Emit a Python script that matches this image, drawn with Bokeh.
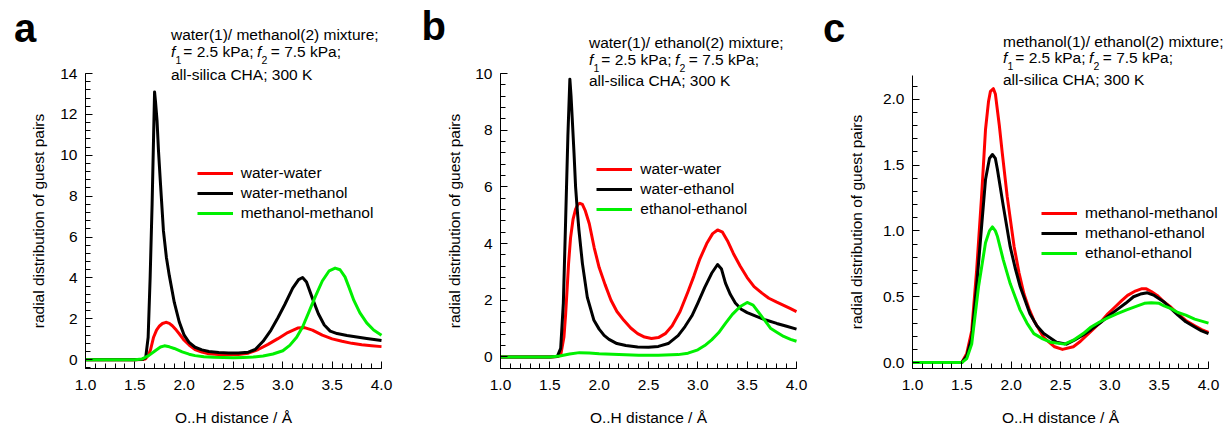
from bokeh.plotting import figure
from bokeh.models import (Range1d, SingleIntervalTicker, NumeralTickFormatter,
                          Label, Legend, LegendItem)
from bokeh.layouts import row
from bokeh.embed import file_html
from bokeh.resources import INLINE

# ---------------- data ----------------
# panel a: water(1)/methanol(2)
a_ww_x = [1.0, 1.5, 1.58, 1.61, 1.64, 1.66, 1.69, 1.72, 1.75, 1.78, 1.815, 1.85, 1.88, 1.92, 1.95, 2.0,
          2.05, 2.11, 2.18, 2.25, 2.35, 2.45, 2.55, 2.65, 2.75, 2.85, 2.95, 3.05, 3.15, 3.22, 3.3, 3.4,
          3.5, 3.6, 3.7, 3.8, 3.9, 4.0]
a_ww_y = [0, 0, 0.01, 0.05, 0.25, 0.5, 1.1, 1.45, 1.65, 1.77, 1.83, 1.78, 1.66, 1.45, 1.27, 0.95,
          0.72, 0.50, 0.37, 0.29, 0.25, 0.24, 0.25, 0.32, 0.5, 0.75, 1.03, 1.33, 1.55, 1.57, 1.45, 1.2,
          1.02, 0.9, 0.8, 0.73, 0.68, 0.64]
a_wm_x = [1.0, 1.5, 1.58, 1.61, 1.635, 1.655, 1.675, 1.69, 1.70, 1.71, 1.725, 1.74, 1.76, 1.79, 1.82,
          1.85, 1.90, 1.95, 2.0, 2.05, 2.11, 2.18, 2.25, 2.35, 2.45, 2.55, 2.65, 2.72, 2.8, 2.88, 2.95,
          3.02, 3.1, 3.16, 3.2, 3.24, 3.3, 3.36, 3.42, 3.48, 3.55, 3.65, 3.75, 3.85, 4.0]
a_wm_y = [0, 0, 0.02, 0.1, 1.1, 4.0, 7.6, 10.9, 13.1, 12.6, 11.7, 10.2, 8.6, 6.3, 5.0,
          4.1, 2.8, 1.85, 1.2, 0.85, 0.61, 0.48, 0.40, 0.35, 0.33, 0.33, 0.37, 0.5, 0.9, 1.45, 2.05,
          2.7, 3.5, 3.92, 4.02, 3.8, 3.0, 2.25, 1.7, 1.4, 1.28, 1.18, 1.11, 1.04, 0.94]
a_mm_x = [1.0, 1.5, 1.57, 1.64, 1.71, 1.76, 1.80, 1.85, 1.9, 1.98, 2.05, 2.11, 2.2, 2.3, 2.4, 2.5,
          2.6, 2.7, 2.8, 2.9, 3.0, 3.07, 3.14, 3.2, 3.27, 3.33, 3.4, 3.47, 3.53, 3.58, 3.63, 3.67,
          3.72, 3.78, 3.85, 3.92, 4.0]
a_mm_y = [0, 0, 0.03, 0.2, 0.45, 0.62, 0.68, 0.63, 0.55, 0.38, 0.27, 0.2, 0.15, 0.12, 0.11, 0.1,
          0.11, 0.13, 0.18, 0.28, 0.44, 0.7, 1.1, 1.6, 2.4, 3.1, 3.85, 4.35, 4.48, 4.4, 4.05, 3.55,
          2.9, 2.3, 1.8, 1.45, 1.2]

# panel b: water(1)/ethanol(2)
b_ww_x = [1.0, 1.5, 1.58, 1.61, 1.643, 1.66, 1.677, 1.69, 1.71, 1.735, 1.76, 1.785, 1.805, 1.83,
          1.86, 1.9, 1.95, 2.0, 2.06, 2.12, 2.18, 2.25, 2.32, 2.39, 2.46, 2.53, 2.6, 2.67, 2.74,
          2.82, 2.9, 2.96, 3.02, 3.09, 3.15, 3.2, 3.25, 3.3, 3.36, 3.43, 3.5, 3.57, 3.65, 3.72,
          3.8, 3.87, 3.94, 4.0]
b_ww_y = [0, 0, 0.01, 0.06, 0.7, 1.5, 2.5, 3.3, 4.2, 4.85, 5.2, 5.38, 5.42, 5.38,
          5.15, 4.7, 3.85, 3.15, 2.55, 2.0, 1.6, 1.29, 1.02, 0.82, 0.7, 0.65, 0.68, 0.82, 1.1,
          1.6, 2.3, 2.85, 3.45, 4.0, 4.35, 4.48, 4.4, 4.1, 3.65, 3.2, 2.8, 2.48, 2.25, 2.07,
          1.93, 1.82, 1.7, 1.6]
b_we_x = [1.0, 1.5, 1.575, 1.61, 1.637, 1.66, 1.683, 1.703, 1.715, 1.728, 1.745, 1.761, 1.78,
          1.795, 1.83, 1.88, 1.947, 2.0, 2.05, 2.1, 2.18, 2.27, 2.39, 2.5, 2.6, 2.7, 2.8, 2.87,
          2.94, 3.0, 3.07, 3.14, 3.2, 3.24, 3.28, 3.33, 3.38, 3.44, 3.5, 3.6, 3.69, 3.8, 3.9, 4.0]
b_we_y = [0, 0, 0.01, 0.3, 1.9, 4.8, 7.8, 9.8, 9.2, 8.35, 7.2, 6.0, 5.1,
          4.47, 3.3, 2.1, 1.29, 0.98, 0.76, 0.62, 0.47, 0.4, 0.35, 0.34, 0.37, 0.47, 0.75, 1.07,
          1.45, 1.9, 2.45, 2.95, 3.26, 3.1, 2.6, 2.2, 1.9, 1.68, 1.56, 1.42, 1.3, 1.18, 1.08, 0.98]
b_ee_x = [1.0, 1.5, 1.6, 1.7, 1.8, 1.9, 2.0, 2.2, 2.4, 2.6, 2.8, 2.9, 3.0, 3.07, 3.14, 3.21, 3.28,
          3.35, 3.43, 3.5, 3.56, 3.62, 3.68, 3.74, 3.8, 3.87, 3.94, 4.0]
b_ee_y = [0, 0, 0.03, 0.1, 0.15, 0.14, 0.11, 0.08, 0.06, 0.06, 0.08, 0.13, 0.25, 0.4, 0.6, 0.85, 1.18,
          1.5, 1.78, 1.92, 1.83, 1.55, 1.28, 1.0, 0.87, 0.72, 0.62, 0.55]

# panel c: methanol(1)/ethanol(2)
c_mm_x = [1.0, 1.5, 1.55, 1.6, 1.65, 1.7, 1.74, 1.77, 1.79, 1.82, 1.84, 1.86, 1.88, 1.91, 1.96,
          2.03, 2.08, 2.13, 2.18, 2.23, 2.33, 2.44, 2.52, 2.63, 2.7, 2.77, 2.84, 2.91, 2.98, 3.05,
          3.12, 3.18, 3.25, 3.32, 3.37, 3.42, 3.48, 3.55, 3.62, 3.69, 3.77, 3.86, 3.93, 4.0]
c_mm_y = [0, 0, 0.07, 0.24, 0.7, 1.26, 1.77, 1.98, 2.06, 2.08, 2.04, 1.92, 1.8, 1.59, 1.26,
          0.88, 0.68, 0.52, 0.41, 0.32, 0.19, 0.12, 0.10, 0.12, 0.16, 0.21, 0.26, 0.31, 0.37, 0.42,
          0.47, 0.51, 0.54, 0.56, 0.56, 0.54, 0.51, 0.46, 0.42, 0.37, 0.32, 0.28, 0.25, 0.23]
c_me_x = [1.0, 1.5, 1.55, 1.6, 1.65, 1.7, 1.74, 1.78, 1.81, 1.84, 1.86, 1.92, 1.99, 2.04, 2.09,
          2.19, 2.26, 2.33, 2.46, 2.56, 2.64, 2.73, 2.81, 2.9, 2.98, 3.07, 3.16, 3.24, 3.31, 3.38,
          3.45, 3.55, 3.62, 3.69, 3.77, 3.86, 3.93, 4.0]
c_me_y = [0, 0, 0.05, 0.19, 0.58, 1.03, 1.39, 1.55, 1.58, 1.55, 1.47, 1.19, 0.88, 0.72, 0.58,
          0.37, 0.28, 0.22, 0.155, 0.14, 0.17, 0.21, 0.25, 0.3, 0.35, 0.4, 0.45, 0.5, 0.52, 0.53,
          0.51, 0.46, 0.41, 0.36, 0.31, 0.27, 0.24, 0.22]
c_ee_x = [1.0, 1.5, 1.55, 1.6, 1.67, 1.74, 1.78, 1.81, 1.84, 1.86, 1.92, 1.99, 2.04, 2.09, 2.16,
          2.23, 2.32, 2.40, 2.54, 2.63, 2.73, 2.81, 2.9, 2.98, 3.07, 3.17, 3.28, 3.35, 3.42, 3.5,
          3.55, 3.62, 3.69, 3.77, 3.86, 3.93, 4.0]
c_ee_y = [0, 0, 0.03, 0.14, 0.58, 0.91, 1.0, 1.03, 1.0, 0.96, 0.78, 0.6, 0.5, 0.4, 0.3,
          0.22, 0.18, 0.155, 0.14, 0.17, 0.22, 0.27, 0.31, 0.34, 0.37, 0.40, 0.43, 0.45, 0.455, 0.45,
          0.43, 0.41, 0.38, 0.36, 0.33, 0.315, 0.30]

RED, BLACK, GREEN = "#ff0000", "#000000", "#00f000"

panels = [
    dict(letter="a", mixture="water(1)/ methanol(2) mixture;",
         series=[("water-water", a_ww_x, a_ww_y, RED),
                 ("water-methanol", a_wm_x, a_wm_y, BLACK),
                 ("methanol-methanol", a_mm_x, a_mm_y, GREEN)],
         y_range=(-0.43, 14.0), y_tick=2, y_fmt="0",
         page_left=0, width=408, fl=85, fr=381, ft=73, fb=368,
         legend_px=(196.7, 173.3), letter_px=(13.5, 42), text_px=(170.5, 40, 56.5, 80),
         ylab_standoff=10),
    dict(letter="b", mixture="water(1)/ ethanol(2) mixture;",
         series=[("water-water", b_ww_x, b_ww_y, RED),
                 ("water-ethanol", b_we_x, b_we_y, BLACK),
                 ("ethanol-ethanol", b_ee_x, b_ee_y, GREEN)],
         y_range=(-0.41, 10.0), y_tick=2, y_fmt="0",
         page_left=408, width=410, fl=500, fr=796, ft=73, fb=368,
         legend_px=(596.3, 169.3), letter_px=(421, 40), text_px=(588.5, 48, 64.5, 86),
         ylab_standoff=9),
    dict(letter="c", mixture="methanol(1)/ ethanol(2) mixture;",
         series=[("methanol-methanol", c_mm_x, c_mm_y, RED),
                 ("methanol-ethanol", c_me_x, c_me_y, BLACK),
                 ("ethanol-ethanol", c_ee_x, c_ee_y, GREEN)],
         y_range=(-0.045, 2.18), y_tick=0.5, y_fmt="0.0",
         page_left=818, width=406, fl=912, fr=1208, ft=75, fb=368,
         legend_px=(1041, 212.7), letter_px=(822.5, 42), text_px=(1002.5, 46.5, 63, 84.5),
         ylab_standoff=15),
]

FONT = "Liberation Sans"
FS_PX = 15.5
FS = "15.5px"
H = 425
X0, X1 = 1.0, 4.0
BASE_FIX = 0.37   # empirical shift (in em) between requested and drawn baseline

figs = []
for P in panels:
    y0, y1 = P["y_range"]
    pl, W = P["page_left"], P["width"]
    sx = (P["fr"] - P["fl"]) / (X1 - X0)
    sy = (P["fb"] - P["ft"]) / (y1 - y0)
    xr = Range1d(X0 - (P["fl"] - pl) / sx, X1 + (pl + W - P["fr"]) / sx)
    yr = Range1d(y0 - (H - P["fb"]) / sy, y1 + P["ft"] / sy)
    p = figure(width=W, height=H, output_backend="svg", toolbar_location=None,
               x_range=xr, y_range=yr, min_border=0,
               min_border_left=0, min_border_right=0, min_border_top=0, min_border_bottom=0)
    p.outline_line_color = None
    p.xgrid.visible = False
    p.ygrid.visible = False
    p.background_fill_color = "white"
    p.border_fill_color = "white"

    def to_data(px, py, pl=pl, sx=sx, sy=sy, yr=yr, xr=xr):
        return xr.start + (px - pl) / sx, yr.end - py / sy

    renderers = []
    for name, xs, ys, col in P["series"]:
        r = p.line(xs, ys, line_color=col, line_width=3, line_join="round")
        renderers.append((name, r))

    p.xaxis.ticker = SingleIntervalTicker(interval=0.5, num_minor_ticks=5)
    p.yaxis.ticker = SingleIntervalTicker(interval=P["y_tick"], num_minor_ticks=5)
    p.xaxis.formatter = NumeralTickFormatter(format="0.0")
    p.yaxis.formatter = NumeralTickFormatter(format=P["y_fmt"])
    p.xaxis.fixed_location = y0
    p.yaxis.fixed_location = X0
    p.xaxis.bounds = (X0, X1)
    p.yaxis.bounds = (y0, y1)
    for ax in (p.xaxis[0], p.yaxis[0]):
        ax.axis_line_color = "black"
        ax.axis_line_width = 1
        ax.major_tick_in = 7
        ax.major_tick_out = 0
        ax.minor_tick_in = 5
        ax.minor_tick_out = 0
        ax.major_tick_line_color = "black"
        ax.minor_tick_line_color = "black"
        ax.major_label_text_font = FONT
        ax.major_label_text_font_size = FS
        ax.major_label_text_color = "black"
        ax.axis_label_text_font = FONT
        ax.axis_label_text_font_size = FS
        ax.axis_label_text_font_style = "normal"
        ax.axis_label_text_color = "black"
    p.xaxis.axis_label = "O..H distance / Å"
    p.xaxis.major_label_standoff = 11
    p.xaxis.axis_label_standoff = 16
    p.yaxis.axis_label = "radial distribution of guest pairs"
    p.yaxis.major_label_standoff = 8
    p.yaxis.axis_label_standoff = int(P["ylab_standoff"])

    # legend
    lx, ly = P["legend_px"]
    legend = Legend(items=[LegendItem(label=n, renderers=[r]) for n, r in renderers],
                    location=(lx - pl, H - (ly - 10 + 60)),
                    padding=0, margin=0, spacing=0, glyph_width=36, glyph_height=20,
                    label_height=20, label_standoff=8,
                    label_text_font=FONT, label_text_font_size=FS, label_text_color="black",
                    background_fill_alpha=0, border_line_alpha=0)
    p.add_layout(legend, "center")

    def put(txt, px, py, size=FS_PX, style="normal", to_data=to_data, p=p):
        xd, yd = to_data(px, py - BASE_FIX * size)
        p.add_layout(Label(x=xd, y=yd, text=txt, text_font=FONT, text_font_size=f"{size}px",
                           text_font_style=style, text_baseline="alphabetic",
                           text_align="left", text_color="black"))

    # panel letter
    put(P["letter"], P["letter_px"][0], P["letter_px"][1], size=40, style="bold")

    # annotation lines
    tx, b1, b2, b3 = P["text_px"]
    put(P["mixture"], tx, b1)
    put("f", tx, b2, style="italic")
    put("1", tx + 4.6, b2 + 6.5, size=10.5)
    put("= 2.5 kPa;", tx + 12.3, b2)
    put("f", tx + 86, b2, style="italic")
    put("2", tx + 90.6, b2 + 6.5, size=10.5)
    put("= 7.5 kPa;", tx + 99.8, b2)
    put("all-silica CHA; 300 K", tx, b3)

    figs.append(p)

layout = row(*figs, spacing=0)
open("out.html", "w").write(file_html(layout, INLINE))
